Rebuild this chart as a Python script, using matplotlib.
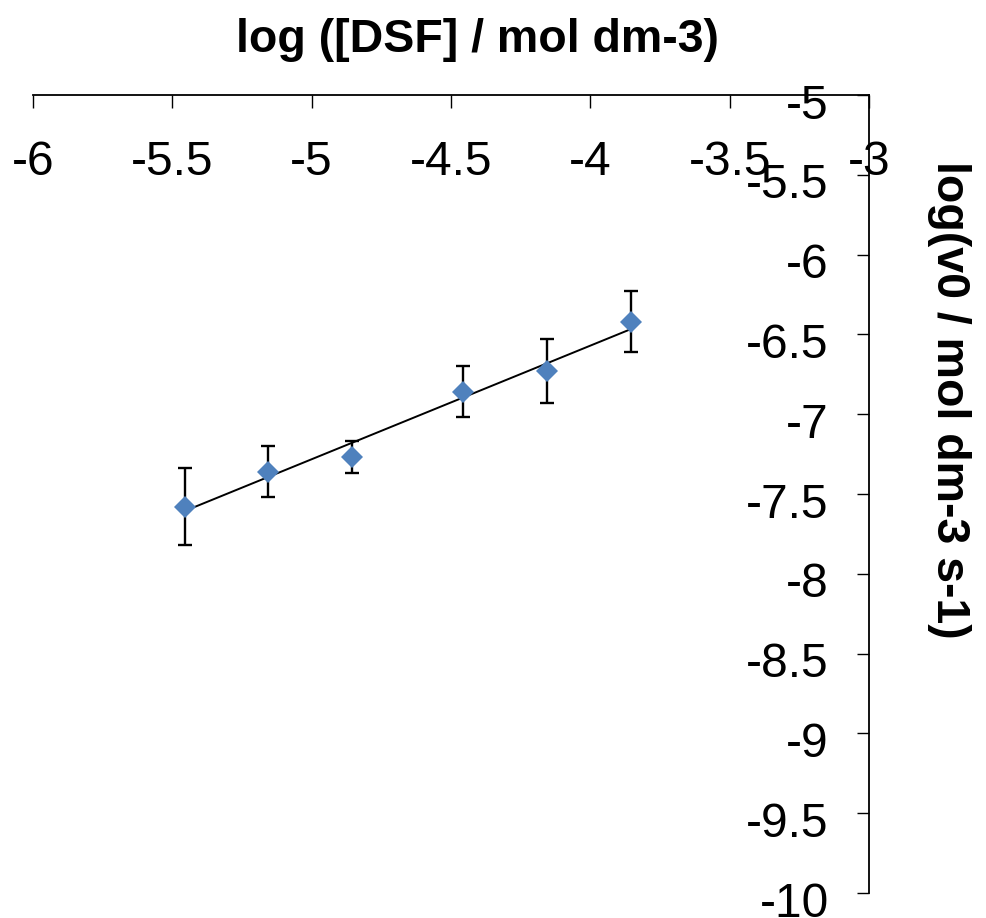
import numpy as np
import matplotlib
matplotlib.use("Agg")
import matplotlib.pyplot as plt
import matplotlib.transforms as mtransforms
from matplotlib.ticker import FuncFormatter, MultipleLocator

plt.rcParams['font.family'] = ['Liberation Sans', 'DejaVu Sans']
plt.rcParams['axes.unicode_minus'] = False

# data
log_dsf = [-5.456, -5.155, -4.854, -4.456, -4.155, -3.854]
log_v0 = [-7.58, -7.36, -7.27, -6.86, -6.73, -6.42]
v0_err = [0.24, 0.16, 0.10, 0.16, 0.20, 0.19]

x_label = "log ([DSF] / mol dm-3)"
y_label = "log(v0 / mol dm-3 s-1)"

fig = plt.figure(figsize=(9.86, 9.18), dpi=100)
ax = fig.add_axes([33/986, 1-893/918, (869-33)/986, (893-95)/918])

ax.set_xlim(-6, -3)
ax.set_ylim(-10, -5)

# trend line (linear fit)
coef = np.polyfit(log_dsf, log_v0, 1)
xs = np.array([min(log_dsf), max(log_dsf)])
ax.plot(xs, np.polyval(coef, xs), color='black', lw=1.4, zorder=2)

ax.errorbar(log_dsf, log_v0, yerr=v0_err, fmt='none', ecolor='black',
            elinewidth=1.7, capsize=4.7, capthick=1.7, zorder=3)
ax.plot(log_dsf, log_v0, linestyle='none', marker='D', markersize=11,
        color='#4F81BD', markeredgewidth=0, zorder=4)

# axes: x axis at top (y=-5), y axis at right (x=-3)
ax.spines['top'].set_visible(False)
ax.spines['right'].set_visible(False)
ax.spines['bottom'].set_position(('axes', 1.0))
ax.spines['left'].set_position(('axes', 1.0))
for s in ('bottom', 'left'):
    ax.spines[s].set_linewidth(1.3)
    ax.spines[s].set_zorder(1)

ax.xaxis.set_major_locator(MultipleLocator(0.5))
ax.yaxis.set_major_locator(MultipleLocator(0.5))
fmt = FuncFormatter(lambda v, p: '%g' % v)
ax.xaxis.set_major_formatter(fmt)
ax.yaxis.set_major_formatter(fmt)

ax.tick_params(axis='x', direction='out', length=9.5, width=1.0, pad=23,
               labelsize=34.5, colors='black')
ax.tick_params(axis='y', direction='out', length=9, width=1.0, pad=20,
               labelsize=34.5, colors='black')

# shift y tick labels slightly downward like the reference
offset = mtransforms.ScaledTranslation(0, -6/100, fig.dpi_scale_trans)
for lab in ax.get_yticklabels():
    lab.set_transform(lab.get_transform() + offset)

fig.text(477/986, 1-40/918, x_label, ha='center', va='center',
         fontsize=33.5, fontweight='bold')
fig.text(949/986, 1-400/918, y_label, ha='center', va='center',
         rotation=-90, fontsize=33.5, fontweight='bold')

fig.savefig('out.png', dpi=100)
